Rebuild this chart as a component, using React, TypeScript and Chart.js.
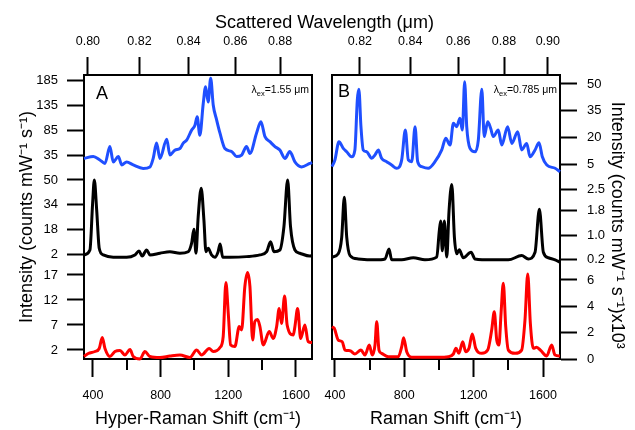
import React, { useEffect, useRef } from 'react';
import { Chart, registerables } from 'chart.js';

Chart.register(...registerables);

const FONT = "'Liberation Sans', Arial, Helvetica, sans-serif";
const BLUE = '#1f4fff';
const BLACK = '#000000';
const RED = '#ff0000';

// ---------- Panel A : hyper-Raman (Raman shift, cm-1) ----------
const shiftA_blue = [347, 402, 441, 471, 500, 520, 550, 570, 599, 638, 697, 737, 756, 776, 796, 836, 855, 885, 914, 934, 954, 983, 1003, 1016, 1032, 1052, 1066, 1081, 1096, 1111, 1131, 1151, 1180, 1220, 1249, 1279, 1308, 1328, 1367, 1393, 1417, 1446, 1476, 1505, 1535, 1564, 1594, 1633, 1682, 1695];
const intA_blue = [28, 32, 25, 18, 52, 21, 32, 15, 21, 15, 8, 11, 28, 59, 28, 67, 35, 45, 48, 59, 65, 85, 95, 112, 75, 139, 173, 142, 190, 136, 106, 79, 48, 42, 32, 35, 52, 38, 79, 102, 72, 62, 52, 45, 28, 42, 21, 11, 18, 20];

const shiftA_black = [347, 382, 398, 408, 422, 437, 461, 520, 599, 648, 672, 691, 717, 737, 796, 855, 914, 963, 983, 997, 1009, 1022, 1040, 1056, 1068, 1081, 1101, 1121, 1140, 1152, 1167, 1210, 1308, 1387, 1427, 1450, 1470, 1505, 1529, 1551, 1568, 1594, 1623, 1682, 1695];
const intA_black = [1.4, 4.6, 35, 50, 30.5, 5.7, 1.4, -0.1, -0.1, 1.4, 3.9, 0.7, 4.6, 1.4, 2.5, 3.5, 2.5, 3.5, 8.9, 18, 2.5, 26, 44.6, 24, 3.5, 5.7, 1.4, -0.1, 3.5, 8.5, -0.1, -0.1, 0.3, 1.4, 3.5, 10, 3.5, 4.6, 19.7, 50, 19.7, 4.6, 2.5, 0.7, 1];

const shiftA_red = [347, 372, 412, 437, 455, 471, 500, 530, 560, 589, 619, 638, 678, 707, 737, 796, 855, 914, 973, 1013, 1042, 1087, 1111, 1151, 1170, 1186, 1200, 1214, 1239, 1265, 1279, 1298, 1314, 1328, 1344, 1357, 1373, 1387, 1407, 1442, 1466, 1486, 1501, 1515, 1533, 1548, 1584, 1594, 1610, 1628, 1653, 1672, 1695];
const intA_red = [0.7, 1.3, 1.7, 2.3, 4.5, 2.3, 0.7, 1.7, 1.9, 1.0, 2.1, 0.7, 0.2, 1.7, 0.7, 0.5, 0.8, 1.0, 0.5, 2.0, 1.0, 2.3, 1.7, 2.5, 4.7, 15.5, 9.3, 3.0, 2.7, 6.7, 6.0, 14.7, 17.5, 14.7, 4.0, 7.7, 8.1, 6.7, 3.0, 5.7, 4.3, 6.7, 10.3, 7.3, 12.8, 7.0, 5.0, 6.7, 10.3, 4.3, 7.0, 3.7, 3.5];

// ---------- Panel B : Raman (Raman shift, cm-1) ----------
const shiftB_blue = [383, 400, 423, 448, 468, 496, 515, 529, 538, 550, 563, 583, 612, 631, 650, 669, 698, 727, 756, 785, 806, 823, 843, 862, 877, 900, 938, 977, 1016, 1039, 1064, 1083, 1102, 1121, 1135, 1148, 1160, 1179, 1208, 1227, 1247, 1261, 1281, 1298, 1313, 1342, 1362, 1396, 1420, 1454, 1477, 1506, 1525, 1554, 1577, 1596, 1622, 1670, 1698];
const intB_blue = [3.5, 7.3, 17.5, 13.8, 11.9, 9.1, 12.9, 41, 47, 26, 12.9, 11.9, 8.2, 10.1, 12.9, 8.2, 6.3, 4.4, 2.6, 7.3, 24.1, 7.3, 6.3, 26, 6.3, 3.5, 2.6, 6.3, 12.9, 19.5, 15.7, 27.9, 26, 30.7, 24.1, 51.3, 26, 13.8, 11.9, 18.5, 47, 20.4, 28.8, 25.1, 20.4, 24.1, 15.7, 26, 16.6, 23.2, 12.9, 16.6, 9.1, 12.9, 17, 9.1, 4.4, 2.6, 0.7];

const shiftB_black = [383, 419, 439, 454, 468, 487, 534, 631, 689, 712, 727, 785, 852, 919, 987, 1002, 1010, 1019, 1031, 1045, 1058, 1074, 1089, 1102, 1117, 1140, 1185, 1208, 1304, 1400, 1477, 1515, 1554, 1579, 1602, 1631, 1670, 1698];
const intB_black = [0.28, 0.39, 0.93, 2.25, 0.93, 0.33, 0.22, 0.19, 0.22, 0.55, 0.19, 0.19, 0.26, 0.19, 0.28, 1.15, 1.47, 0.49, 1.47, 0.28, 1.8, 2.67, 0.93, 0.39, 0.52, 0.26, 0.44, 0.22, 0.19, 0.19, 0.33, 0.22, 0.44, 1.85, 0.44, 0.26, 0.19, 0.11];

const shiftB_red = [383, 396, 419, 442, 458, 487, 515, 550, 573, 598, 615, 631, 641, 654, 669, 708, 765, 785, 796, 814, 843, 919, 996, 1054, 1083, 1098, 1115, 1137, 1154, 1173, 1192, 1212, 1247, 1281, 1304, 1319, 1333, 1346, 1358, 1371, 1385, 1400, 1439, 1477, 1496, 1512, 1527, 1544, 1563, 1588, 1621, 1650, 1669, 1698];
const intB_red = [2.45, 2.33, 1.44, 1.31, 0.68, 0.63, 0.38, 0.68, 0.30, 1.06, 0.30, 1.06, 2.83, 0.68, 0.43, 0.17, 0.17, 0.93, 1.62, 0.55, 0.13, 0.13, 0.13, 0.17, 0.38, 0.81, 0.43, 1.31, 0.55, 0.81, 1.9, 0.81, 0.43, 0.68, 2.2, 3.59, 1.44, 1.06, 3.47, 5.75, 2.45, 0.68, 0.43, 0.68, 2.96, 6.45, 2.71, 0.81, 0.89, 0.63, 0.23, 1.06, 0.30, 0.23];

// ---------- ticks ----------
const ticksA_blue = [35, 85, 135, 185];
const ticksA_black = [2, 18, 34, 50];
const ticksA_red = [2, 7, 12, 17];
const ticksB_blue = [5, 20, 35, 50];
const ticksB_black = [0.2, 1.0, 1.8, 2.5];
const ticksB_red = [0, 2, 4, 6];
const shiftTicks = [400, 800, 1200, 1600];
const shiftMinorTicks = [600, 1000, 1400];
const wavelengthTicksA = [0.80, 0.82, 0.84, 0.86, 0.88];
const wavelengthTicksB = [0.82, 0.84, 0.86, 0.88, 0.90];
const laserA_um = 1.554; // hyper-Raman excitation (scattered near 2ω)
const laserB_um = 0.785; // Raman excitation
const K_A = 2e4 / laserA_um;
const K_B = 1e4 / laserB_um;

const TITLE_Y_L = 'Intensity (counts mW\u207B\u00B9 s\u207B\u00B9)';
const TITLE_Y_R = 'Intensity (counts mW\u207B\u00B9 s\u207B\u00B9)x10\u00B3';

const pts = (xs: number[], ys: number[]) => xs.map((x, i) => ({ x, y: ys[i] }));

function line(xs: number[], ys: number[], color: string, yId: string) {
  return {
    data: pts(xs, ys),
    xAxisID: 'x',
    yAxisID: yId,
    borderColor: color,
    backgroundColor: color,
    borderWidth: 3,
    pointRadius: 0,
    cubicInterpolationMode: 'monotone',
    fill: false,
    clip: false as any,
  };
}

function yAxis(position: string, stack: string, weight: number, stackWeight: number, min: number, max: number,
  values: number[], digits: number, width: number, title?: string, titlePad?: number) {
  return {
    type: 'linear',
    position, stack, weight, stackWeight, min, max,
    afterBuildTicks: (s: any) => { s.ticks = values.map((v) => ({ value: v })); },
    afterFit: (s: any) => { s.width = width; },
    ticks: {
      autoSkip: false,
      padding: position === 'left' ? 9 : 10,
      color: '#000',
      font: { family: FONT, size: 13 },
      callback: (v: any) => Number(v).toFixed(digits),
    },
    grid: { display: true, drawOnChartArea: false, drawTicks: true, tickLength: 17, tickWidth: 2, tickColor: '#000', color: '#000' },
    border: { display: true, width: 2, color: '#000' },
    title: title
      ? { display: true, text: title, color: '#000', font: { family: FONT, size: 18 }, padding: { top: titlePad, bottom: 0 } }
      : { display: false },
  };
}

function xBottom(min: number, max: number, title: string) {
  return {
    type: 'linear', position: 'bottom', min, max,
    afterBuildTicks: (s: any) => { s.ticks = shiftTicks.map((v) => ({ value: v })); },
    afterFit: (s: any) => { s.height = 71; },
    ticks: { autoSkip: false, maxRotation: 0, padding: 11, color: '#000', font: { family: FONT, size: 12.5 }, callback: (v: any) => String(v) },
    grid: { display: true, drawOnChartArea: false, tickLength: 18, tickWidth: 2, tickColor: '#000', color: '#000' },
    border: { display: true, width: 2, color: '#000' },
    title: { display: true, text: title, color: '#000', font: { family: FONT, size: 18 }, padding: { top: 0, bottom: 0 } },
  };
}

function xTop(min: number, max: number, wl: number[], K: number, height: number) {
  return {
    type: 'linear', position: 'top', min, max,
    afterBuildTicks: (s: any) => { s.ticks = wl.map((l) => ({ value: K - 1e4 / l })); },
    afterFit: (s: any) => { s.height = height; },
    ticks: { autoSkip: false, maxRotation: 0, padding: 8, color: '#000', font: { family: FONT, size: 12.5 }, callback: (v: any) => (1e4 / (K - Number(v))).toFixed(2) },
    grid: { display: true, drawOnChartArea: false, tickLength: 18, tickWidth: 2, tickColor: '#000', color: '#000' },
    border: { display: true, width: 2, color: '#000' },
  };
}

function frameAxis(position: string, width: number) {
  return {
    type: 'linear', position, min: 0, max: 1,
    afterFit: (s: any) => { s.width = width; },
    ticks: { display: false },
    grid: { display: true, drawOnChartArea: false, drawTicks: false },
    border: { display: true, width: 2, color: '#000' },
  };
}

function decor(label: string, lx: number, ly: number, lambdaText: string) {
  return {
    id: 'decor',
    afterDraw(chart: any) {
      const ctx = chart.ctx as CanvasRenderingContext2D;
      const ca = chart.chartArea;
      const xs = chart.scales.x;
      ctx.save();
      ctx.strokeStyle = '#000';
      ctx.lineWidth = 2;
      shiftMinorTicks.forEach((v) => {
        const px = Math.round(xs.getPixelForValue(v));
        ctx.beginPath();
        ctx.moveTo(px, ca.bottom);
        ctx.lineTo(px, ca.bottom + 11);
        ctx.stroke();
      });
      ctx.fillStyle = '#000';
      ctx.textAlign = 'left';
      ctx.textBaseline = 'alphabetic';
      ctx.font = `18px ${FONT}`;
      ctx.fillText(label, ca.left + lx, ca.top + ly);
      // λex=... annotation
      const main = `=${lambdaText} \u03BCm`;
      const big = `10.5px ${FONT}`;
      const small = `7.5px ${FONT}`;
      ctx.font = big;
      const w1 = ctx.measureText(main).width;
      const w3 = ctx.measureText('\u03BB').width;
      ctx.font = small;
      const w2 = ctx.measureText('ex').width;
      const base = ca.top + 18;
      let x = ca.right - 3 - w1 - w2 - w3;
      ctx.font = big;
      ctx.fillText('\u03BB', x, base);
      x += w3;
      ctx.font = small;
      ctx.fillText('ex', x, base + 3);
      x += w2;
      ctx.font = big;
      ctx.fillText(main, x, base);
      ctx.restore();
    },
  };
}

function configA(): any {
  return {
    type: 'line',
    data: {
      datasets: [
        line(shiftA_blue, intA_blue, BLUE, 'yBlue'),
        line(shiftA_black, intA_black, BLACK, 'yBlack'),
        line(shiftA_red, intA_red, RED, 'yRed'),
      ],
    },
    options: {
      responsive: false,
      animation: false,
      events: [],
      layout: { padding: { left: 14, right: 0, top: 0, bottom: 0 } },
      plugins: {
        legend: { display: false },
        tooltip: { enabled: false },
        title: {
          display: true,
          text: 'Scattered Wavelength (\u03BCm)',
          color: '#000',
          font: { family: FONT, size: 18, weight: 'normal' },
          padding: { top: 12, bottom: 0 },
        },
      },
      scales: {
        x: xBottom(347, 1695, 'Hyper-Raman Shift (cm\u207B\u00B9)'),
        xTop: xTop(347, 1695, wavelengthTicksA, K_A, 41.4),
        yBlue: yAxis('left', 'A', 3, 1, 5.4, 196.5, ticksA_blue, 0, 70),
        yBlack: yAxis('left', 'A', 2, 1, -4.7, 56.7, ticksA_black, 0, 70, TITLE_Y_L, 2),
        yRed: yAxis('left', 'A', 1, 1, 0.2, 19.13, ticksA_red, 0, 70),
        frame: frameAxis('right', 323),
      },
    },
    plugins: [decor('A', 12, 24, laserA_um.toFixed(2))],
  };
}

function configB(): any {
  return {
    type: 'line',
    data: {
      datasets: [
        line(shiftB_blue, intB_blue, BLUE, 'yBlue'),
        line(shiftB_black, intB_black, BLACK, 'yBlack'),
        line(shiftB_red, intB_red, RED, 'yRed'),
      ],
    },
    options: {
      responsive: false,
      animation: false,
      events: [],
      layout: { padding: 0 },
      plugins: { legend: { display: false }, tooltip: { enabled: false }, title: { display: false } },
      scales: {
        x: xBottom(383, 1698, 'Raman Shift (cm\u207B\u00B9)'),
        xTop: xTop(383, 1698, wavelengthTicksB, K_B, 75),
        yBlue: yAxis('right', 'B', 1, 103.33, -3.06, 55.06, ticksB_blue, 0, 75),
        yBlack: yAxis('right', 'B', 2, 94, -0.22, 2.87, ticksB_black, 1, 75, TITLE_Y_R, 7),
        yRed: yAxis('right', 'B', 3, 86.67, 0, 6.58, ticksB_red, 0, 75),
        frame: frameAxis('left', 332),
      },
    },
    plugins: [decor('B', 6, 22, laserB_um.toFixed(3))],
  };
}

export default function App() {
  const refA = useRef<HTMLCanvasElement>(null);
  const refB = useRef<HTMLCanvasElement>(null);
  useEffect(() => {
    Chart.defaults.font.family = FONT;
    Chart.defaults.color = '#000';
    const a = new Chart(refA.current as HTMLCanvasElement, configA());
    const b = new Chart(refB.current as HTMLCanvasElement, configB());
    return () => { a.destroy(); b.destroy(); };
  }, []);
  return (
    <div style={{ position: 'absolute', left: 0, top: 0, width: 635, height: 430, background: '#fff' }}>
      <canvas ref={refA} width={635} height={430} style={{ position: 'absolute', left: 0, top: 0 }} />
      <canvas ref={refB} width={635} height={430} style={{ position: 'absolute', left: 0, top: 0 }} />
    </div>
  );
}
